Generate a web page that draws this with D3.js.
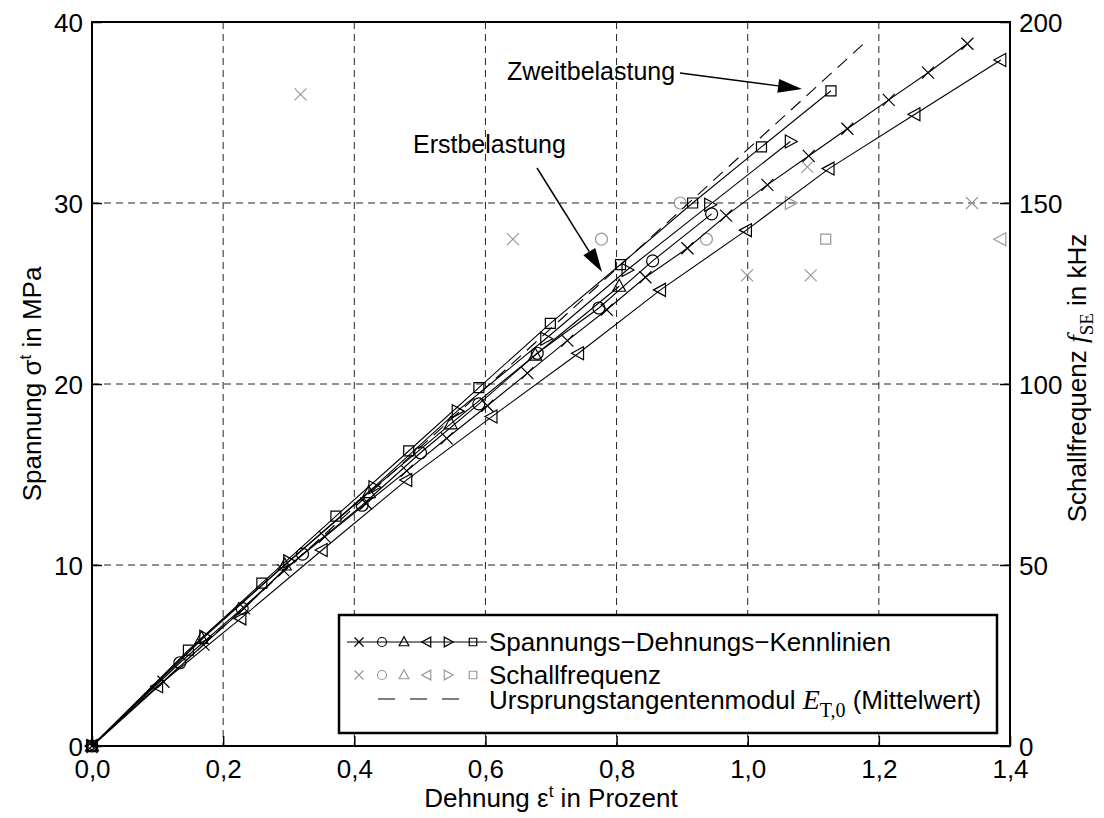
<!DOCTYPE html>
<html>
<head>
<meta charset="utf-8">
<script src="https://cdn.jsdelivr.net/npm/d3@7"></script>
<style>
  body { margin: 0; background: #fff; }
  svg { display: block; }
  text { font-family: "Liberation Sans", Arial, sans-serif; fill: #000; }
  .serif { font-family: "Liberation Serif", "Times New Roman", serif; }
</style>
</head>
<body>
<div id="chart"></div>
<script>
// Spannungs-Dehnungs-Kennlinien (Dehnung in %, Spannung in MPa), one array pair per marker
const crossStrain = [0, 0.109, 0.17, 0.232, 0.292, 0.355, 0.418, 0.48, 0.541, 0.603, 0.664, 0.725, 0.785, 0.844, 0.908, 0.967, 1.030, 1.093, 1.152, 1.215, 1.275, 1.335];
const crossStress = [0, 3.55, 5.6, 7.6, 9.7, 11.55, 13.4, 15.2, 17.0, 18.8, 20.6, 22.4, 24.1, 25.9, 27.5, 29.3, 31.0, 32.6, 34.1, 35.7, 37.2, 38.8];
const circleStrain = [0, 0.134, 0.229, 0.321, 0.412, 0.501, 0.59, 0.679, 0.773, 0.855, 0.945];
const circleStress = [0, 4.6, 7.6, 10.6, 13.3, 16.2, 18.9, 21.7, 24.2, 26.8, 29.4];
const triUpStrain = [0, 0.167, 0.294, 0.422, 0.547, 0.676, 0.804];
const triUpStress = [0, 5.95, 10.0, 14.0, 17.8, 21.6, 25.4];
const triLeftStrain = [0, 0.10, 0.227, 0.351, 0.480, 0.61, 0.742, 0.867, 0.998, 1.124, 1.255, 1.386];
const triLeftStress = [0, 3.3, 7.05, 10.83, 14.7, 18.2, 21.7, 25.2, 28.5, 31.9, 34.9, 37.9];
const triRightStrain = [0, 0.172, 0.30, 0.43, 0.557, 0.692, 0.816, 0.942, 1.065];
const triRightStress = [0, 6.04, 10.2, 14.3, 18.5, 22.5, 26.3, 29.9, 33.4];
const squareStrain = [0, 0.147, 0.259, 0.372, 0.483, 0.59, 0.699, 0.806, 0.916, 1.021, 1.127];
const squareStress = [0, 5.3, 9.0, 12.7, 16.3, 19.8, 23.35, 26.6, 30.0, 33.1, 36.2];

// Schallfrequenz (Dehnung in %, Frequenz in kHz)
const crossFreqStrain = [0.318, 0.642, 0.999, 1.091, 1.096, 1.342];
const crossFreq = [180, 140, 130, 160, 130, 150];
const circleFreqStrain = [0.777, 0.897, 0.937];
const circleFreq = [140, 150, 140];
const triLeftFreqStrain = [1.386];
const triLeftFreq = [140];
const triRightFreqStrain = [1.065];
const triRightFreq = [150];
const squareFreqStrain = [1.119];
const squareFreq = [140];

// Ursprungstangentenmodul (Mittelwert)
const modulusStrain = [0, 1.18];
const modulusStress = [0, 38.9];

// axes
const xTicks = [0, 0.2, 0.4, 0.6, 0.8, 1.0, 1.2, 1.4];
const yTicks = [0, 10, 20, 30, 40];
const yRightTicks = [0, 50, 100, 150, 200];

const W = 1104, H = 818;
const x = d3.scaleLinear().domain([0, 1.4]).range([92, 1010]);
const y = d3.scaleLinear().domain([0, 40]).range([746, 22]);
const yR = d3.scaleLinear().domain([0, 200]).range([746, 22]);

const svg = d3.select("#chart").append("svg").attr("width", W).attr("height", H);

// marker shapes
function markerPath(type, k) {
  k = k || 1;
  const p = d3.path();
  if (type === "x") {
    const h = 6 * k;
    p.moveTo(-h, -h); p.lineTo(h, h); p.moveTo(-h, h); p.lineTo(h, -h);
  } else if (type === "o") {
    p.arc(0, 0, 6 * k, 0, 2 * Math.PI); p.closePath();
  } else if (type === "^") {
    p.moveTo(0, -7 * k); p.lineTo(6.5 * k, 5 * k); p.lineTo(-6.5 * k, 5 * k); p.closePath();
  } else if (type === "<") {
    p.moveTo(-7 * k, 0); p.lineTo(5 * k, -6.5 * k); p.lineTo(5 * k, 6.5 * k); p.closePath();
  } else if (type === ">") {
    p.moveTo(7 * k, 0); p.lineTo(-5 * k, -6.5 * k); p.lineTo(-5 * k, 6.5 * k); p.closePath();
  } else if (type === "s") {
    p.rect(-5 * k, -5 * k, 10 * k, 10 * k);
  }
  return p.toString();
}

// grid
const grid = svg.append("g").attr("stroke", "#222").attr("stroke-width", 1).attr("stroke-dasharray", "7,5");
grid.selectAll("line.v").data(xTicks.slice(1, -1)).join("line")
  .attr("x1", d => x(d)).attr("x2", d => x(d)).attr("y1", y(40)).attr("y2", y(0));
grid.selectAll("line.h").data(yTicks.slice(1, -1)).join("line")
  .attr("x1", x(0)).attr("x2", x(1.4)).attr("y1", d => y(d)).attr("y2", d => y(d));

// Schallfrequenz markers (grey)
const freqSets = [
  { m: "x", s: crossFreqStrain, f: crossFreq },
  { m: "o", s: circleFreqStrain, f: circleFreq },
  { m: "<", s: triLeftFreqStrain, f: triLeftFreq },
  { m: ">", s: triRightFreqStrain, f: triRightFreq },
  { m: "s", s: squareFreqStrain, f: squareFreq }
];
freqSets.forEach(set => {
  svg.append("g").selectAll("path").data(set.s).join("path")
    .attr("transform", (d, i) => `translate(${x(d)},${yR(set.f[i])})`)
    .attr("d", markerPath(set.m))
    .attr("fill", "none").attr("stroke", "#999").attr("stroke-width", 1.2);
});

// Kennlinien
const curveSets = [
  { m: "x", s: crossStrain, v: crossStress },
  { m: "o", s: circleStrain, v: circleStress },
  { m: "^", s: triUpStrain, v: triUpStress },
  { m: "<", s: triLeftStrain, v: triLeftStress },
  { m: ">", s: triRightStrain, v: triRightStress },
  { m: "s", s: squareStrain, v: squareStress }
];
const line = d3.line().x(d => x(d[0])).y(d => y(d[1]));
curveSets.forEach(set => {
  const pts = set.s.map((d, i) => [d, set.v[i]]);
  svg.append("path").datum(pts).attr("d", line)
    .attr("fill", "none").attr("stroke", "#000").attr("stroke-width", 1.1);
  svg.append("g").selectAll("path").data(pts).join("path")
    .attr("transform", d => `translate(${x(d[0])},${y(d[1])})`)
    .attr("d", markerPath(set.m))
    .attr("fill", "none").attr("stroke", "#000").attr("stroke-width", 1.2);
});

// Ursprungstangentenmodul
svg.append("path").datum(modulusStrain.map((d, i) => [d, modulusStress[i]])).attr("d", line)
  .attr("fill", "none").attr("stroke", "#000").attr("stroke-width", 1.1).attr("stroke-dasharray", "13,8");

// axes
const fmtComma = d => d3.format(".1f")(d).replace(".", ",");
const gx = svg.append("g").attr("transform", `translate(0,${y(0)})`)
  .call(d3.axisBottom(x).tickValues(xTicks).tickSize(-10).tickFormat(fmtComma));
gx.selectAll("text").attr("y", 32).attr("dy", null);
const gy = svg.append("g").attr("transform", `translate(${x(0)},0)`)
  .call(d3.axisLeft(y).tickValues(yTicks).tickSize(-10));
gy.selectAll("text").attr("x", -9).attr("dy", "0.35em");
const gyr = svg.append("g").attr("transform", `translate(${x(1.4)},0)`)
  .call(d3.axisRight(yR).tickValues(yRightTicks).tickSize(-10));
gyr.selectAll("text").attr("x", 9).attr("dy", "0.35em");
[gx, gy, gyr].forEach(g => {
  g.select(".domain").remove();
  g.selectAll("line").attr("stroke", "#000").attr("stroke-width", 1.5);
  g.selectAll("text").attr("font-size", 26).attr("font-family", "Liberation Sans, Arial, sans-serif").attr("fill", "#000");
});
svg.append("rect").attr("x", x(0)).attr("y", y(40)).attr("width", x(1.4) - x(0)).attr("height", y(0) - y(40))
  .attr("fill", "none").attr("stroke", "#000").attr("stroke-width", 2);

// axis titles
const xl = svg.append("text").attr("x", (x(0) + x(1.4)) / 2).attr("y", 807).attr("text-anchor", "middle").attr("font-size", 26);
xl.append("tspan").text("Dehnung ε");
xl.append("tspan").attr("dy", -10).attr("font-size", 17).text("t");
xl.append("tspan").attr("dy", 10).text("  in Prozent");

const yl = svg.append("text").attr("transform", `translate(41,${(y(0) + y(40)) / 2}) rotate(-90)`)
  .attr("text-anchor", "middle").attr("font-size", 26);
yl.append("tspan").text("Spannung  σ");
yl.append("tspan").attr("dy", -10).attr("font-size", 17).text("t");
yl.append("tspan").attr("dy", 10).text("  in MPa");

const yrl = svg.append("text").attr("transform", `translate(1086,${(y(0) + y(40)) / 2 - 6}) rotate(-90)`)
  .attr("text-anchor", "middle").attr("font-size", 26);
yrl.append("tspan").text("Schallfrequenz ");
yrl.append("tspan").attr("class", "serif").attr("font-style", "italic").attr("font-size", 28).text("f");
yrl.append("tspan").attr("class", "serif").attr("dy", 7).attr("font-size", 19).text("SE");
yrl.append("tspan").attr("dy", -7).text("  in kHz");

// annotations
function arrow(x1, y1, x2, y2) {
  const a = Math.atan2(y2 - y1, x2 - x1), L = 24, hw = 7;
  const bx = x2 - L * Math.cos(a), by = y2 - L * Math.sin(a);
  svg.append("line").attr("x1", x1).attr("y1", y1).attr("x2", bx).attr("y2", by)
    .attr("stroke", "#000").attr("stroke-width", 1.5);
  svg.append("path")
    .attr("d", `M${x2},${y2}L${bx - hw * Math.sin(a)},${by + hw * Math.cos(a)}L${bx + hw * Math.sin(a)},${by - hw * Math.cos(a)}Z`)
    .attr("fill", "#000");
}
svg.append("text").attr("x", 507).attr("y", 80).attr("font-size", 25).text("Zweitbelastung");
arrow(680, 73, 802, 89);
svg.append("text").attr("x", 413).attr("y", 153).attr("font-size", 25).text("Erstbelastung");
arrow(537, 168, 602, 272);

// legend
const lg = svg.append("g");
lg.append("rect").attr("x", 339).attr("y", 615).attr("width", 658).attr("height", 118)
  .attr("fill", "#fff").attr("stroke", "#000").attr("stroke-width", 2.5);
const legendMarkers = ["x", "o", "^", "<", ">", "s"];
const legendMarkX = [359, 382, 404, 427, 448, 473];
lg.append("line").attr("x1", 347).attr("x2", 487).attr("y1", 642).attr("y2", 642).attr("stroke", "#000").attr("stroke-width", 1);
lg.selectAll("path.k").data(legendMarkers).join("path")
  .attr("transform", (d, i) => `translate(${legendMarkX[i]},642)`)
  .attr("d", d => markerPath(d, 0.75)).attr("fill", "none").attr("stroke", "#000").attr("stroke-width", 1.2);
lg.selectAll("path.g").data(legendMarkers).join("path")
  .attr("transform", (d, i) => `translate(${legendMarkX[i]},675)`)
  .attr("d", d => markerPath(d, 0.75)).attr("fill", "none").attr("stroke", "#999").attr("stroke-width", 1.2);
lg.append("line").attr("x1", 378).attr("x2", 460).attr("y1", 699).attr("y2", 699)
  .attr("stroke", "#000").attr("stroke-width", 1.1).attr("stroke-dasharray", "17,15");
lg.append("text").attr("x", 489).attr("y", 651).attr("font-size", 26).text("Spannungs−Dehnungs−Kennlinien");
lg.append("text").attr("x", 489).attr("y", 684).attr("font-size", 26).text("Schallfrequenz");
const l3 = lg.append("text").attr("x", 489).attr("y", 709).attr("font-size", 26);
l3.append("tspan").text("Ursprungstangentenmodul ");
l3.append("tspan").attr("class", "serif").attr("font-style", "italic").attr("font-size", 28).text("E");
l3.append("tspan").attr("class", "serif").attr("dy", 8).attr("font-size", 20).text("T,0");
l3.append("tspan").attr("dy", -8).text(" (Mittelwert)");
</script>
</body>
</html>
